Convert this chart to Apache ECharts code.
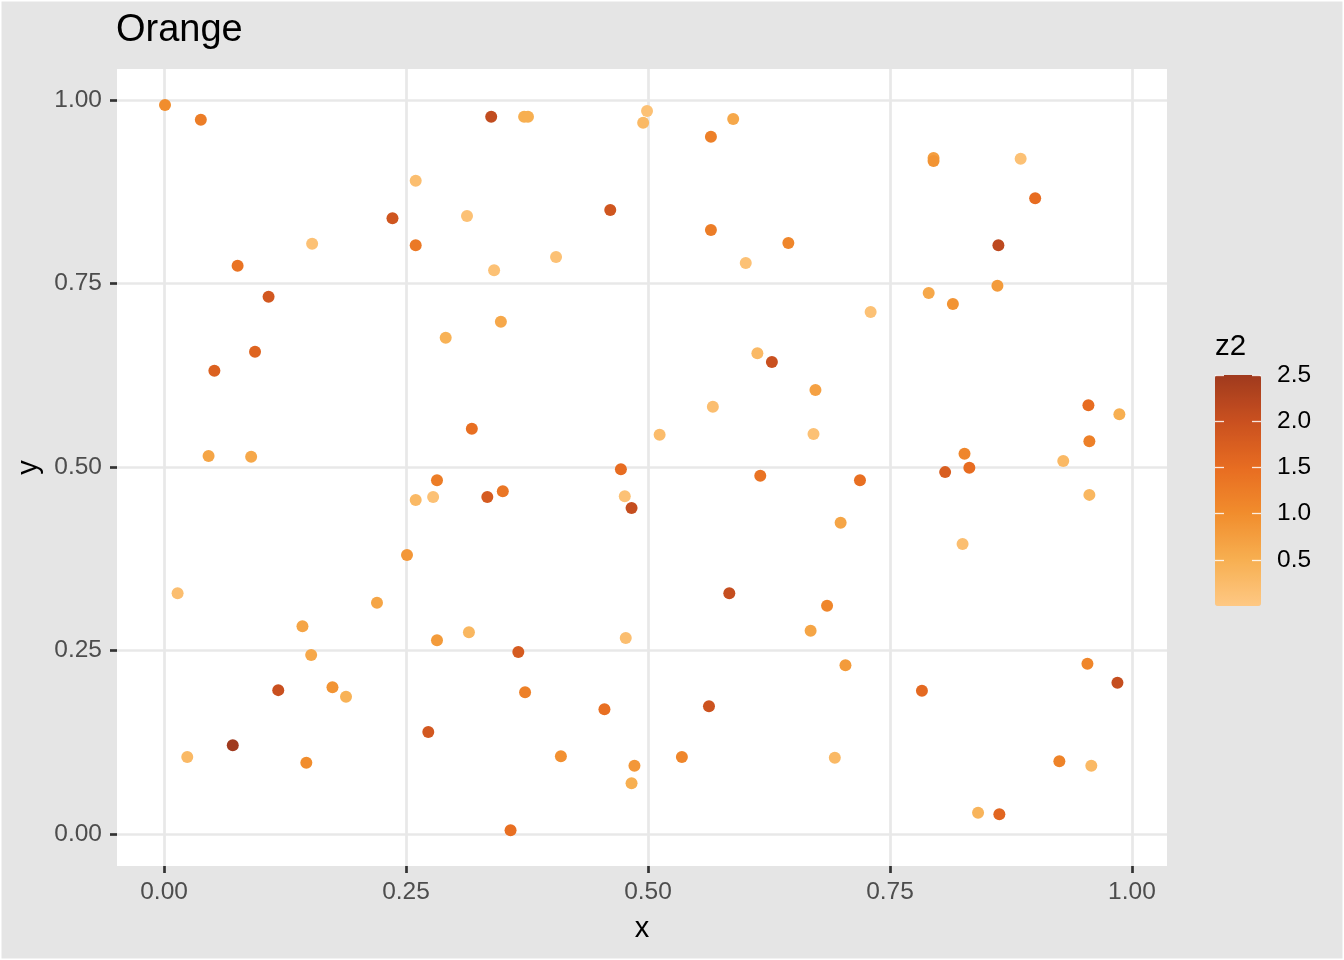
<!DOCTYPE html>
<html>
<head>
<meta charset="utf-8">
<script src="https://cdn.jsdelivr.net/npm/echarts@6/dist/echarts.min.js"></script>
<style>
html,body{margin:0;padding:0;background:#ffffff;}
#chart{width:1344px;height:960px;}
</style>
</head>
<body>
<div id="chart"></div>
<script>
// ---- data ----
const xs = [0.001,0.038,0.338,0.372,0.376,0.499,0.495,0.565,0.588,0.795,
            0.795,0.885,0.900,0.260,0.461,0.236,0.260,0.153,0.313,0.565,
            0.645,0.601,0.405,0.341,0.076,0.108,0.862,0.861,0.790,0.815,
            0.730,0.348,0.291,0.094,0.052,0.613,0.628,0.673,0.567,0.955,
            0.987,0.956,0.929,0.956,0.827,0.832,0.807,0.719,0.616,0.671,
            0.512,0.318,0.046,0.090,0.282,0.260,0.278,0.334,0.350,0.472,
            0.476,0.483,0.699,0.825,0.251,0.014,0.220,0.584,0.685,0.668,
            0.143,0.315,0.282,0.477,0.366,0.152,0.704,0.954,0.985,0.118,
            0.174,0.188,0.373,0.783,0.455,0.563,0.071,0.273,0.024,0.147,
            0.410,0.486,0.483,0.535,0.693,0.925,0.958,0.841,0.863,0.358];
const ys = [0.993,0.973,0.977,0.977,0.977,0.985,0.969,0.950,0.974,0.921,
            0.917,0.920,0.866,0.890,0.850,0.839,0.802,0.804,0.842,0.823,
            0.805,0.778,0.786,0.768,0.774,0.732,0.802,0.747,0.737,0.722,
            0.711,0.698,0.676,0.657,0.631,0.655,0.643,0.605,0.582,0.584,
            0.572,0.535,0.508,0.462,0.518,0.499,0.493,0.482,0.488,0.545,
            0.544,0.552,0.515,0.514,0.482,0.455,0.459,0.459,0.467,0.497,
            0.460,0.444,0.424,0.395,0.380,0.328,0.315,0.328,0.311,0.277,
            0.283,0.275,0.264,0.267,0.248,0.244,0.230,0.232,0.206,0.196,
            0.200,0.187,0.193,0.195,0.170,0.174,0.121,0.139,0.105,0.097,
            0.106,0.093,0.069,0.105,0.104,0.099,0.093,0.029,0.027,0.005];
const zs = [1.00,1.25,2.10,0.50,0.50,0.15,0.30,1.20,0.60,0.75,
            0.90,0.15,1.50,0.20,1.90,1.90,1.30,0.15,0.15,1.25,
            1.10,0.15,0.15,0.15,1.40,1.85,2.15,0.80,0.60,0.90,
            0.15,0.60,0.45,1.65,1.70,0.30,2.00,0.70,0.20,1.50,
            0.50,1.20,0.30,0.35,1.10,1.50,1.75,1.45,1.40,0.15,
            0.25,1.45,0.65,0.60,1.25,0.30,0.15,1.80,1.35,1.50,
            0.15,2.05,0.65,0.20,0.85,0.20,0.65,2.05,1.10,0.65,
            0.65,0.35,0.80,0.20,1.80,0.60,0.80,1.10,2.05,2.00,
            0.90,0.45,1.20,1.55,1.45,1.95,2.50,1.85,0.30,1.00,
            0.95,0.85,0.50,1.10,0.30,1.15,0.30,0.40,1.60,1.45];

const xTicks = [0, 0.25, 0.5, 0.75, 1];
const yTicks = [0, 0.25, 0.5, 0.75, 1];
const legendTicks = [0.5, 1, 1.5, 2, 2.5];
const paletteOrange = ['#FEC884','#F7AF51','#F18D2D','#E76C21','#C9501F','#A03A1E'];

const points = xs.map((x, i) => [x, ys[i], zs[i]]);

const FONT = '"Liberation Sans", Arial, Helvetica, sans-serif';

const chart = echarts.init(document.getElementById('chart'), null, {renderer: 'canvas'});

const option = {
  backgroundColor: '#E5E5E5',
  animation: false,
  textStyle: {fontFamily: FONT},
  title: [
    {text: 'Orange', left: 116, top: 12, padding: 0,
     textStyle: {fontSize: 38, fontWeight: 'normal', color: '#000000', fontFamily: FONT}},
    {text: 'z2', left: 1215, top: 332, padding: 0,
     textStyle: {fontSize: 29.5, fontWeight: 'normal', color: '#000000', fontFamily: FONT}}
  ],
  graphic: [
    {type: 'rect', shape: {x: 0, y: 0, width: 1344, height: 960}, silent: true, z: 100,
     style: {fill: 'none', stroke: '#ffffff', lineWidth: 3}}
  ],
  grid: [
    {left: 117, top: 69, width: 1050, height: 797, show: true,
     backgroundColor: '#ffffff', borderWidth: 0, containLabel: false},
    {left: 1215, top: 375, width: 46, height: 231, show: false, containLabel: false}
  ],
  visualMap: {
    type: 'continuous', min: 0, max: 2.5, dimension: 2, seriesIndex: 0,
    inRange: {color: paletteOrange},
    left: 1215, top: 375, itemWidth: 46, itemHeight: 231,
    calculable: false, hoverLink: false, padding: 0, orient: 'vertical',
    text: null, showLabel: false, z: 2
  },
  xAxis: [
    {type: 'value', gridIndex: 0, min: -0.0486, max: 1.0362,
     name: 'x', nameLocation: 'middle', nameGap: 48,
     nameTextStyle: {fontSize: 29, color: '#000000', fontFamily: FONT},
     axisLine: {show: false, onZero: false},
     axisTick: {show: true, length: 7, customValues: xTicks,
                lineStyle: {color: '#333333', width: 2.7}},
     axisLabel: {customValues: xTicks, formatter: v => v.toFixed(2), margin: 14,
                 color: '#4D4D4D', fontSize: 24.5, fontFamily: FONT},
     splitLine: {show: true, lineStyle: {color: '#E8E8E8', width: 2.7}}},
    {type: 'value', gridIndex: 1, show: false, min: 0, max: 1}
  ],
  yAxis: [
    {type: 'value', gridIndex: 0, min: -0.0436, max: 1.0422,
     name: 'y', nameLocation: 'middle', nameGap: 71, nameRotate: 90,
     nameTextStyle: {fontSize: 29, color: '#000000', fontFamily: FONT},
     axisLine: {show: false, onZero: false},
     axisTick: {show: true, length: 7, customValues: yTicks,
                lineStyle: {color: '#333333', width: 2.7}},
     axisLabel: {customValues: yTicks, formatter: v => v.toFixed(2), margin: 15,
                 padding: [4, 0, 0, 0],
                 color: '#4D4D4D', fontSize: 24.5, fontFamily: FONT},
     splitLine: {show: true, lineStyle: {color: '#E8E8E8', width: 2.7}}},
    {type: 'value', gridIndex: 1, min: 0, max: 2.5, position: 'right', z: 10,
     axisLine: {show: false, onZero: false},
     axisTick: {show: true, inside: true, length: 9, customValues: legendTicks,
                lineStyle: {color: 'rgba(255,255,255,0.85)', width: 1.3}},
     axisLabel: {customValues: legendTicks, formatter: v => v.toFixed(1), margin: 16,
                 padding: [6, 0, 0, 0],
                 color: '#000000', fontSize: 24.5, fontFamily: FONT},
     splitLine: {show: false}},
    {type: 'value', gridIndex: 1, min: 0, max: 2.5, position: 'left', z: 10,
     axisLine: {show: false, onZero: false},
     axisTick: {show: true, inside: true, length: 9, customValues: legendTicks,
                lineStyle: {color: 'rgba(255,255,255,0.85)', width: 1.3}},
     axisLabel: {show: false},
     splitLine: {show: false}}
  ],
  series: [
    {type: 'scatter', xAxisIndex: 0, yAxisIndex: 0, data: points,
     symbol: 'circle', symbolSize: 12, itemStyle: {opacity: 1},
     emphasis: {disabled: true}, z: 5}
  ]
};

chart.setOption(option);
</script>
</body>
</html>
